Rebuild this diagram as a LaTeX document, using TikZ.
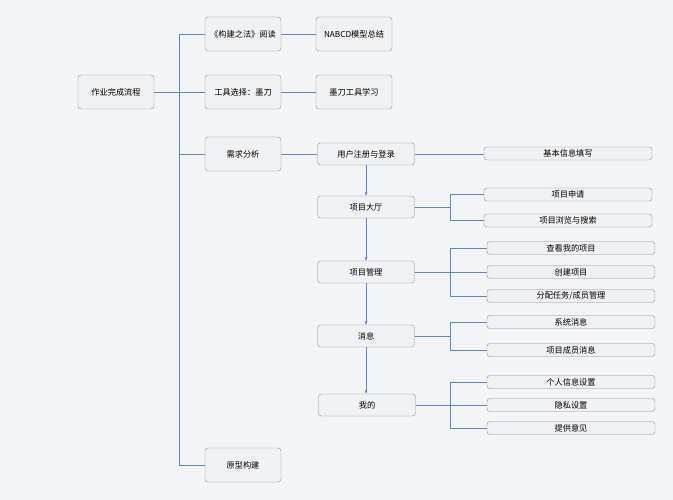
\documentclass[tikz,border=0pt]{standalone}
\usepackage{fontspec}
\newfontfamily\cjk{Noto Sans CJK SC}
\usetikzlibrary{arrows.meta, positioning}
\definecolor{bgcol}{HTML}{F3F4F6}
\definecolor{boxcol}{HTML}{F0F1F3}
\definecolor{edgecol}{HTML}{8A8E94}
\definecolor{linkcol}{HTML}{5F86BD}
\begin{document}
\begin{tikzpicture}[
            x=1pt, y=-1pt,
            % Stile per i riquadri grandi
            topic/.style={draw=edgecol, fill=boxcol, rounded corners=3pt, font=\cjk\fontsize{8.2}{10}\selectfont, minimum width=76pt, minimum height=34pt, inner sep=0pt},
            % Stile per i riquadri medi
            stage/.style={topic, minimum width=97pt, minimum height=22pt},
            % Stile per le foglie
            leaf/.style={topic, minimum width=168pt, minimum height=13pt},
            % Stile per le linee
            link/.style={draw=linkcol, line width=0.6pt},
            flow/.style={link, -{Stealth[length=4pt,width=3pt]}}
        ]
            \fill[bgcol] (0,0) rectangle (673,500);
            \useasboundingbox (0,0) rectangle (673,500);

            % --- Radice ---
            \node[topic] (root) at (116,92) {作业完成流程};

            % --- Primo livello ---
            \node[topic] (read) at (243,34) {《构建之法》阅读};
            \node[topic] (tool) at (243,92) {工具选择：墨刀};
            \node[topic] (need) at (243,154) {需求分析};
            \node[topic] (proto) at (243,465) {原型构建};
            \node[topic] (nabcd) at (354,34) {NABCD模型总结};
            \node[topic] (learn) at (354,92) {墨刀工具学习};

            \coordinate (bus) at (179,92);
            \draw[link] (root) -- (bus);
            \draw[link] (179,34) -- (179,465);
            \foreach \child in {read,tool,need,proto}
                \draw[link] (bus |- \child) -- (\child.west);
            \draw[link] (read) -- (nabcd);
            \draw[link] (tool) -- (learn);

            % --- Passi ---
            \node[stage] (login) at (366,154) {用户注册与登录};
            \node[stage] (hall) at (366,207) {项目大厅};
            \node[stage] (manage) at (366,272) {项目管理};
            \node[stage] (msg) at (366,336) {消息};
            \node[stage] (mine) at (367,405) {我的};
            \draw[link] (need) -- (login);
            \draw[flow] (login) -- (hall);
            \draw[flow] (hall) -- (manage);
            \draw[flow] (manage) -- (msg);
            \draw[flow] (msg) -- (mine.north -| msg);

            % --- Foglie ---
            \node[leaf] (info) at (568,153.5) {基本信息填写};
            \node[leaf] (apply) at (568,194.5) {项目申请};
            \node[leaf] (browse) at (568,220.5) {项目浏览与搜索};
            \node[leaf] (view) at (571,248) {查看我的项目};
            \node[leaf] (create) at (571,272) {创建项目};
            \node[leaf] (assign) at (571,296) {分配任务/成员管理};
            \node[leaf] (sys) at (571,322) {系统消息};
            \node[leaf] (member) at (571,350) {项目成员消息};
            \node[leaf] (person) at (571,382) {个人信息设置};
            \node[leaf] (privacy) at (571,405) {隐私设置};
            \node[leaf] (advice) at (571,428) {提供意见};
            \draw[link] (login) -- (info.west |- login);

            % Rami verso le foglie
            \foreach \parent/\first/\last/\list in {hall/apply/browse/{apply,browse},
                    manage/view/assign/{view,create,assign},
                    msg/sys/member/{sys,member},
                    mine/person/advice/{person,privacy,advice}} {
                \coordinate (j) at (450,0);
                \draw[link] (\parent.east) -- (j |- \parent);
                \draw[link] (j |- \first) -- (j |- \last);
                \foreach \leafname in \list
                    \draw[link] (j |- \leafname) -- (\leafname.west);
            }
\end{tikzpicture}
\end{document}
